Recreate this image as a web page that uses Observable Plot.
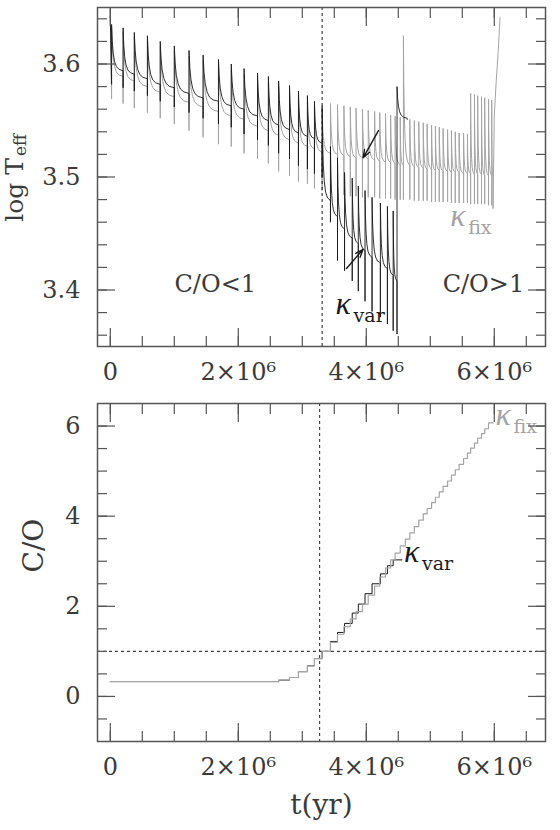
<!DOCTYPE html>
<html><head><meta charset="utf-8">
<script src="https://cdn.jsdelivr.net/npm/d3@7"></script>
<script src="https://cdn.jsdelivr.net/npm/@observablehq/plot@0.6"></script>
<style>
body{margin:0;background:#fff;}
#chart{width:560px;height:830px;overflow:hidden}
#chart svg{display:block}
</style></head><body><div id="chart"></div><script>
// ---------- DATA (time in units of 10^6 yr) ----------
// kappa_var model, top panel: thermal pulses
const varT    = [0.02,0.20,0.375,0.58,0.78,1.00,1.23,1.45,1.69,1.89,2.09,2.30,2.47,2.63,2.80,2.94,3.08,3.19,3.31,3.44,3.55,3.66,3.78,3.875,3.98,4.09,4.22,4.33,4.42,4.48];
const varPeak = [3.635,3.632,3.628,3.625,3.620,3.616,3.612,3.608,3.604,3.600,3.596,3.592,3.589,3.585,3.581,3.576,3.572,3.567,3.563,3.527,3.517,3.504,3.499,3.492,3.488,3.482,3.477,3.474,3.470,3.580];
const varDip  = [3.582,3.579,3.576,3.572,3.567,3.562,3.557,3.552,3.547,3.544,3.538,3.533,3.528,3.521,3.516,3.510,3.507,3.503,3.500,3.460,3.426,3.417,3.408,3.399,3.390,3.381,3.376,3.370,3.364,3.361];
const varBase = [3.594,3.591,3.587,3.582,3.579,3.574,3.570,3.567,3.563,3.560,3.554,3.550,3.546,3.542,3.539,3.536,3.534,3.530,3.479,3.465,3.454,3.446,3.441,3.435,3.429,3.424,3.419,3.413,3.408,3.552];
const varStart = [0, 3.642];
const varTailT = [4.64];
const varTailV = [3.551];

// kappa_fix model, top panel
const fixT    = [0.02,0.20,0.375,0.58,0.78,1.00,1.23,1.45,1.69,1.89,2.09,2.30,2.47,2.63,2.80,2.94,3.08,3.19,3.31,
                 3.44,3.55,3.65,3.75,3.84,3.94,4.03,4.13,4.21,4.30,4.38,4.45,4.53,4.58,4.68,4.75,4.82,4.89,4.95,5.02,5.08,5.14,5.20,5.27,5.33,5.39,5.45,5.52,5.58,5.63,5.69,5.74,5.80,5.85,5.91,5.96];
const fixPeak = [3.632,3.628,3.624,3.620,3.616,3.612,3.607,3.603,3.599,3.595,3.591,3.587,3.584,3.580,3.576,3.571,3.567,3.563,3.560,
                 3.565,3.564,3.563,3.562,3.561,3.560,3.559,3.558,3.557,3.556,3.555,3.554,3.553,3.625,3.551,3.550,3.549,3.548,3.547,3.546,3.545,3.544,3.543,3.542,3.541,3.540,3.539,3.539,3.538,3.574,3.573,3.572,3.571,3.570,3.569,3.568];
const fixDip  = [3.569,3.565,3.561,3.557,3.552,3.547,3.541,3.535,3.529,3.527,3.521,3.516,3.512,3.505,3.501,3.496,3.494,3.490,3.488,
                 3.485,3.484,3.484,3.483,3.483,3.482,3.482,3.482,3.481,3.481,3.481,3.480,3.480,3.480,3.480,3.479,3.479,3.479,3.479,3.478,3.478,3.478,3.478,3.478,3.477,3.477,3.477,3.477,3.477,3.476,3.476,3.476,3.476,3.476,3.475,3.475];
const fixBase = [3.589,3.585,3.580,3.575,3.571,3.566,3.562,3.558,3.554,3.551,3.545,3.541,3.537,3.533,3.530,3.527,3.525,3.522,3.521,
                 3.520,3.519,3.518,3.517,3.517,3.516,3.515,3.514,3.513,3.513,3.512,3.511,3.510,3.510,3.509,3.508,3.508,3.507,3.507,3.506,3.506,3.505,3.505,3.504,3.504,3.504,3.503,3.503,3.503,3.502,3.502,3.502,3.501,3.501,3.501,3.500];
const fixStart = [0, 3.642];
const fixTailT = [5.98, 6.00, 6.03, 6.06, 6.09];
const fixTailV = [3.472, 3.555, 3.585, 3.610, 3.641];

// bottom panel: surface C/O (step after each pulse)
const coFixT = [0,2.63,2.80,2.94,3.08,3.19,3.31,3.44,3.55,3.65,3.75,3.84,3.94,4.03,4.13,4.21,4.30,4.38,4.45,4.53,4.61,4.68,4.75,4.82,4.89,4.95,5.02,5.08,5.14,5.20,5.27,5.33,5.39,5.45,5.52,5.58,5.63,5.69,5.74,5.80,5.85,5.91,5.98];
const coFix  = [0.33,0.36,0.42,0.55,0.68,0.84,1.00,1.20,1.38,1.55,1.72,1.88,2.05,2.25,2.45,2.65,2.85,3.03,3.18,3.34,3.49,3.63,3.77,3.91,4.05,4.17,4.30,4.42,4.54,4.66,4.78,4.91,5.03,5.15,5.28,5.40,5.51,5.62,5.73,5.83,5.94,6.07,6.07];
const coVarT = [0,2.63,2.80,2.94,3.08,3.19,3.31,3.44,3.55,3.66,3.78,3.875,3.98,4.09,4.22,4.33,4.42,4.56];
const coVar  = [0.33,0.36,0.42,0.55,0.68,0.84,1.00,1.22,1.42,1.62,1.85,2.05,2.28,2.50,2.72,2.90,3.03,3.03];

// reference lines
const coEqualsOneTimeTop = 3.31;
const coEqualsOneTimeBottom = 3.27;
const coEqualsOne = 1;

// axes
const xMajor = [0, 2, 4, 6];
const xMajorLabels = ["0", "2×10⁶", "4×10⁶", "6×10⁶"];
const topYMajor = [3.4, 3.5, 3.6];
const topYLabels = ["3.4", "3.5", "3.6"];
const coYMajor = [0, 2, 4, 6];
const coYLabels = ["0", "2", "4", "6"];

// annotations
const regionText = ["C/O<1", "C/O>1"];
const regionT = [1.64, 5.83];
const regionV = [3.405, 3.405];
const arrowFromT = [4.19, 3.69], arrowFromV = [3.541, 3.419];
const arrowToT   = [3.95, 3.95], arrowToV   = [3.517, 3.436];
const kappaTopSub = ["fix", "var"], kappaTopT = [5.31, 3.52], kappaTopV = [3.457, 3.379];
const kappaBotSub = ["var", "fix"], kappaBotT = [4.59, 6.02], kappaBotV = [2.99, 6.02];

// ---------- BUILD ----------
const FONT = "DejaVu Serif";
const GRAY = "#a4a4a4", DARK = "#1a1a1a", AXIS = "#555", TXT = "#3a3a3a";
const decayProfile = [[0.06,0.62],[0.14,0.38],[0.26,0.2],[0.42,0.09],[0.65,0.03],[1,0]];

function track(start, T, dip, peak, base, tailT, tailV) {
  const pts = [{t: start[0], v: start[1]}];
  for (let i = 0; i < T.length; i++) {
    pts.push({t: T[i], v: dip[i]}, {t: T[i], v: peak[i]});
    const next = i < T.length - 1 ? T[i + 1] : tailT[0];
    const dt = next - T[i];
    for (const [f, r] of decayProfile) pts.push({t: T[i] + f * dt, v: base[i] + r * (peak[i] - base[i])});
  }
  tailT.forEach((t, i) => pts.push({t, v: tailV[i]}));
  return pts;
}
const varPts = track(varStart, varT, varDip, varPeak, varBase, varTailT, varTailV);
const fixPts = track(fixStart, fixT, fixDip, fixPeak, fixBase, fixTailT, fixTailV);
const coFixPts = coFixT.map((t, i) => ({t, v: coFix[i]}));
const coVarPts = coVarT.map((t, i) => ({t, v: coVar[i]}));

const xMinor = d3.range(0, 6.8, 0.5);
const xLab = new Map(xMajor.map((d, i) => [d, xMajorLabels[i]]));

function frameAxes(yMajor, yMinor, yLabels) {
  const yLab = new Map(yMajor.map((d, i) => [d, yLabels[i]]));
  const o = {fill: "none", stroke: AXIS, strokeWidth: 1.2, label: null};
  return [
    Plot.axisX(xMajor, {...o, anchor: "bottom", tickSize: -18}),
    Plot.axisX(xMinor, {...o, anchor: "bottom", tickSize: -10}),
    Plot.axisX(xMajor, {...o, anchor: "top", tickSize: -18}),
    Plot.axisX(xMinor, {...o, anchor: "top", tickSize: -10}),
    Plot.axisY(yMajor, {...o, anchor: "left", tickSize: -18}),
    Plot.axisY(yMinor, {...o, anchor: "left", tickSize: -10}),
    Plot.axisY(yMajor, {...o, anchor: "right", tickSize: -18}),
    Plot.axisY(yMinor, {...o, anchor: "right", tickSize: -10}),
    Plot.axisX(xMajor, {anchor: "bottom", tickSize: 0, tickPadding: 16, tickFormat: d => xLab.get(d), fontSize: 24, fill: TXT, label: null}),
    Plot.axisY(yMajor, {anchor: "left", tickSize: 0, tickPadding: 17, tickFormat: d => yLab.get(d), fontSize: 24, fill: TXT, label: null}),
    Plot.frame({stroke: AXIS, strokeWidth: 1.5})
  ];
}

function kappa(sub, T, V, color) {
  const data = sub.map((s, i) => ({s, t: T[i], v: V[i]}));
  return [
    Plot.text(data, {x: "t", y: "v", text: () => "κ", fontFamily: "Liberation Serif", fontStyle: "italic", fontSize: 32, textAnchor: "start", lineAnchor: "bottom", fill: color}),
    Plot.text(data, {x: "t", y: "v", text: "s", dx: 18, dy: 8, fontSize: 19, textAnchor: "start", lineAnchor: "bottom", fill: color})
  ];
}

const topPlot = Plot.plot({
  width: 560, height: 390,
  marginTop: 7, marginBottom: 44, marginLeft: 97, marginRight: 15,
  style: {fontFamily: FONT, background: "white", overflow: "visible"},
  x: {domain: [-0.2, 6.8], label: null},
  y: {domain: [3.35, 3.65], label: null},
  marks: [
    Plot.line(fixPts, {x: "t", y: "v", stroke: GRAY, strokeWidth: 1}),
    Plot.line(varPts, {x: "t", y: "v", stroke: DARK, strokeWidth: 0.9}),
    Plot.ruleX([coEqualsOneTimeTop], {stroke: DARK, strokeWidth: 1, strokeDasharray: "3,3"}),
    Plot.text(regionText.map((s, i) => ({s, t: regionT[i], v: regionV[i]})), {x: "t", y: "v", text: "s", fontSize: 24, fill: TXT}),
    Plot.arrow(arrowFromT.map((t, i) => ({x1: t, y1: arrowFromV[i], x2: arrowToT[i], y2: arrowToV[i]})),
      {x1: "x1", y1: "y1", x2: "x2", y2: "y2", stroke: DARK, strokeWidth: 1.4, headLength: 9, headAngle: 40}),
    kappa([kappaTopSub[0]], [kappaTopT[0]], [kappaTopV[0]], GRAY),
    kappa([kappaTopSub[1]], [kappaTopT[1]], [kappaTopV[1]], DARK),
    Plot.text(["log T"], {frameAnchor: "left", rotate: -90, dx: -75, dy: -19, textAnchor: "end", lineAnchor: "bottom", fontSize: 25, fill: TXT}),
    Plot.text(["eff"], {frameAnchor: "left", rotate: -90, dx: -72, dy: -21, textAnchor: "start", lineAnchor: "bottom", fontSize: 17, fill: TXT}),
    ...frameAxes(topYMajor, d3.range(3.36, 3.645, 0.02), topYLabels)
  ]
});

const botPlot = Plot.plot({
  width: 560, height: 440,
  marginTop: 13, marginBottom: 89, marginLeft: 97, marginRight: 15,
  style: {fontFamily: FONT, background: "white", overflow: "visible"},
  x: {domain: [-0.2, 6.8], label: null},
  y: {domain: [-1, 6.5], label: null},
  marks: [
    Plot.ruleX([coEqualsOneTimeBottom], {stroke: "#444", strokeWidth: 1.2, strokeDasharray: "3,3"}),
    Plot.ruleY([coEqualsOne], {stroke: "#444", strokeWidth: 1.2, strokeDasharray: "3,3"}),
    Plot.line(coVarPts, {x: "t", y: "v", curve: "step-after", stroke: DARK, strokeWidth: 1}),
    Plot.line(coFixPts, {x: "t", y: "v", curve: "step-after", stroke: GRAY, strokeWidth: 1.2}),
    kappa([kappaBotSub[0]], [kappaBotT[0]], [kappaBotV[0]], DARK),
    kappa([kappaBotSub[1]], [kappaBotT[1]], [kappaBotV[1]], GRAY),
    Plot.text(["C/O"], {frameAnchor: "left", rotate: -90, dx: -55, lineAnchor: "bottom", fontSize: 28, fill: TXT}),
    Plot.text(["t(yr)"], {frameAnchor: "bottom", dy: 72, lineAnchor: "bottom", fontSize: 28, fill: TXT}),
    ...frameAxes(coYMajor, d3.range(-0.5, 6.5, 0.5), coYLabels)
  ]
});

const host = document.getElementById("chart");
host.appendChild(topPlot);
host.appendChild(botPlot);
</script></body></html>
